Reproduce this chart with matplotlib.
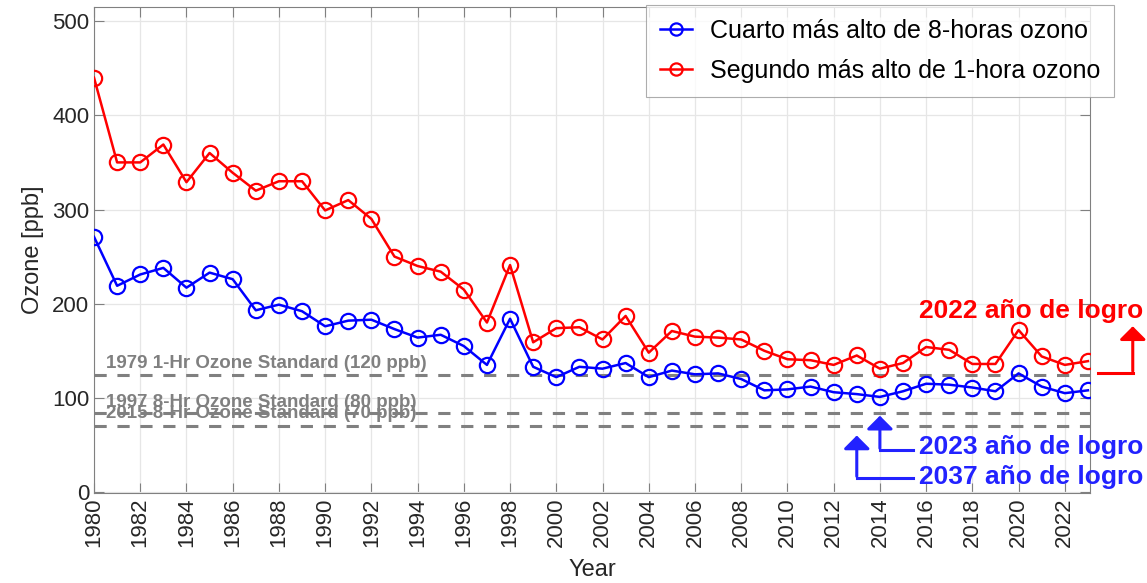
import numpy as np
import matplotlib
matplotlib.use("Agg")
import matplotlib.pyplot as plt

plt.rcParams['font.family'] = ['Liberation Sans', 'DejaVu Sans']

years = np.arange(1980, 2024)

# segundo mas alto de 1-hora (ppb)
ozone_1hr = [440, 350, 350, 369, 329, 360, 339, 320, 330, 330,
             299, 310, 290, 250, 240, 234, 215, 180, 241, 159,
             174, 175, 162, 187, 148, 171, 165, 164, 162, 150,
             141, 140, 135, 145, 131, 137, 154, 151, 136, 136,
             172, 144, 135, 139]

# cuarto mas alto de 8-horas (ppb)
ozone_8hr = [271, 219, 231, 238, 217, 233, 226, 193, 199, 192,
             176, 182, 183, 173, 164, 167, 155, 135, 184, 133,
             122, 133, 131, 137, 122, 129, 125, 126, 120, 108,
             109, 112, 106, 104, 101, 107, 115, 114, 111, 107,
             126, 112, 105, 108]

standards = [124, 84, 70]
standard_labels = ['1979 1-Hr Ozone Standard (120 ppb)',
                   '1997 8-Hr Ozone Standard (80 ppb)',
                   '2015 8-Hr Ozone Standard (70 ppb)']

xticks = np.arange(1980, 2023, 2)
yticks = np.arange(0, 501, 100)

fig = plt.figure(figsize=(11.47, 5.83), dpi=100)
ax = fig.add_axes([94/1147, 1 - 493/583, (1090 - 94)/1147, (493 - 7)/583])

for s in standards:
    ax.axhline(s, color='#808080', lw=2.2, ls=(0, (4, 3.5)), zorder=2)

ax.text(1980.5, 137, standard_labels[0], color='#808080', fontsize=13.5,
        fontweight='bold', va='center')
ax.text(1980.5, 95, standard_labels[1], color='#808080', fontsize=13.5,
        fontweight='bold', va='center')
ax.text(1980.5, 83, standard_labels[2], color='#808080', fontsize=13.5,
        fontweight='bold', va='center')

ax.plot(years, ozone_8hr, '-o', color='#0000ff', lw=1.8, ms=11,
        mfc='none', mew=1.6, label='Cuarto más alto de 8-horas ozono', zorder=3)
ax.plot(years, ozone_1hr, '-o', color='#ff0000', lw=1.8, ms=11,
        mfc='none', mew=1.6, label='Segundo más alto de 1-hora ozono', zorder=3)

ax.set_xlim(1980, 2023.09)
ax.set_ylim(-1, 515)
ax.set_xticks(xticks)
ax.set_yticks(yticks)
ax.set_xticklabels([str(y) for y in xticks], rotation=90)
ax.tick_params(direction='in', length=7, top=True, right=True,
               labelsize=16, labelcolor='#262626', color='#808080')
ax.grid(True, color='#e6e6e6', lw=0.9)
ax.set_axisbelow(True)
for sp in ax.spines.values():
    sp.set_color('#808080')
ax.set_xlabel('Year', fontsize=17, color='#262626', labelpad=8)
ax.set_ylabel('Ozone [ppb]', fontsize=17, color='#262626', labelpad=6)

leg = ax.legend(loc='upper left', bbox_to_anchor=(646/1147, 1 - 5/583),
                bbox_transform=fig.transFigure, fontsize=18, frameon=True,
                fancybox=False, edgecolor='#999999', borderaxespad=0,
                handlelength=1.3, handletextpad=0.7, labelspacing=0.65,
                borderpad=0.55, markerscale=0.8)
leg.get_frame().set_linewidth(0.8)
leg.set_zorder(5)

# flechas de logro
red = '#ff0000'
blue = '#2222ff'
hw = dict(arrowstyle='-|>,head_length=0.8,head_width=0.8', lw=2.2)

ax.plot([2023.43, 2024.94], [126.6, 126.6], color=red, lw=2.2, clip_on=False)
ax.annotate('', xy=(2024.94, 179), xytext=(2024.94, 125.5),
            arrowprops=dict(color=red, **hw), annotation_clip=False)
ax.text(2015.7, 192, '2022 año de logro', color=red, fontsize=19,
        fontweight='bold', va='center', clip_on=False)

ax.plot([2015.42, 2014.0], [44.6, 44.6], color=blue, lw=2.2, clip_on=False)
ax.annotate('', xy=(2014.0, 84), xytext=(2014.0, 43.5),
            arrowprops=dict(color=blue, **hw), annotation_clip=False)
ax.text(2015.7, 47.8, '2023 año de logro', color=blue, fontsize=19,
        fontweight='bold', va='center', clip_on=False)

ax.plot([2015.42, 2013.0], [14.9, 14.9], color=blue, lw=2.2, clip_on=False)
ax.annotate('', xy=(2013.0, 63), xytext=(2013.0, 13.8),
            arrowprops=dict(color=blue, **hw), annotation_clip=False)
ax.text(2015.7, 15.9, '2037 año de logro', color=blue, fontsize=19,
        fontweight='bold', va='center', clip_on=False)

fig.savefig('out.png', dpi=100)
